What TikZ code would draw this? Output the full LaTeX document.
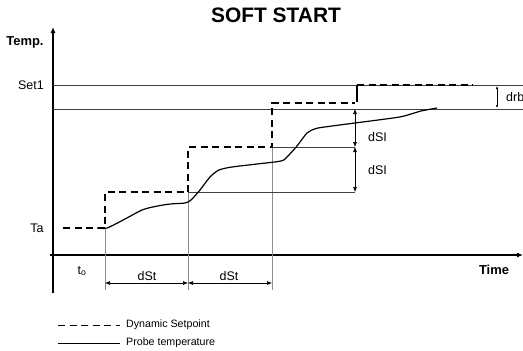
\documentclass[tikz,border=0pt]{standalone}
\usepackage{fontspec}
\setmainfont{Liberation Sans}
\usetikzlibrary{arrows.meta, positioning, calc}

\begin{document}
\begin{tikzpicture}[
    x=1bp, y=-1bp,
    >=Latex,
    axis line/.style={-{Latex[length=6bp,width=5bp]}, line width=1.1bp},
    guide line/.style={black!75, line width=0.7bp},
    marker line/.style={black!45, line width=0.9bp},
    setpoint line/.style={dash pattern=on 7bp off 4.5bp, line width=1.2bp},
    probe line/.style={line width=1.2bp},
    dim arrow/.style={{Latex[length=5bp,width=4bp]}-{Latex[length=5bp,width=4bp]}, line width=0.6bp},
    small arrow/.style={{Latex[length=3bp,width=2.5bp]}-{Latex[length=3bp,width=2.5bp]}, line width=0.6bp},
    label text/.style={font=\fontsize{12.5}{14}\selectfont, inner sep=0pt},
    bold text/.style={font=\bfseries\fontsize{13}{15}\selectfont, inner sep=0pt},
    legend text/.style={font=\fontsize{10.7}{12}\selectfont, anchor=west, inner sep=0pt}
]
\useasboundingbox (0,0) rectangle (523,350);

% Title and axis labels
\node[font=\bfseries\fontsize{21}{24}\selectfont, inner sep=0pt] (title) at (276,15) {SOFT START};
\node[bold text] (templbl) at (25,42) {Temp.};
\node[bold text] (timelbl) at (494,270) {Time};

% Axes
\coordinate (ybot) at (53,293);
\coordinate (ytop) at (53,27);
\coordinate (xleft) at (50,255);
\coordinate (xright) at (523,255);
\draw[axis line] (ybot) -- (ytop);
\draw[axis line] (xleft) -- (xright);

% Set1 and lower band limit
\coordinate (set1a) at (53,85);
\coordinate (set1b) at (523,85);
\coordinate (banda) at (53,109);
\coordinate (bandb) at (523,109);
\draw[guide line] (set1a) -- (set1b);
\draw[guide line] (banda) -- (bandb);
\node[label text, anchor=east] (set1lbl) at (44,85) {Set1};
\node[label text] (talbl) at (37,228) {Ta};

% Step corners of the dynamic setpoint
\coordinate (s0) at (63,228);
\coordinate (s1) at (105,228);
\coordinate (s2) at (105,192);
\coordinate (s3) at (188,192);
\coordinate (s4) at (188,147);
\coordinate (s5) at (272,147);
\coordinate (s6) at (272,103);
\coordinate (s7) at (355,103);
\coordinate (j1) at (357,102);
\coordinate (j2) at (357,85);
\coordinate (s8) at (473,85);

% Time markers
\coordinate (m1) at (105,290);
\coordinate (m2) at (188,290);
\coordinate (m3) at (272,290);
\draw[marker line] (s1) -- (m1);
\draw[marker line] (s3) -- (m2);
\draw[marker line] (s5) -- (m3);

% Step levels carried to the right
\coordinate (l1) at (355,192);
\coordinate (l2) at (355,147);
\coordinate (l3) at (355,109);
\draw[guide line] (s3) -- (l1);
\draw[guide line] (s5) -- (l2);

% Dynamic setpoint
\draw[setpoint line] (s0) -- (s1) -- (s2) -- (s3) -- (s4) -- (s5) -- (s6) -- (s7);
\draw[line width=2.4bp] (j1) -- (j2);
\draw[setpoint line] (j2) -- (s8);

% Probe temperature
\draw[probe line, line join=round] plot[smooth, tension=0.45] coordinates {
    (97,228) (107,228) (125,219) (142,210) (155,206.5) (170,204) (185,203)
    (191,200) (200,190) (210,177) (219,170) (232,167) (257,164) (281,161)
    (287,157) (297,146) (307,133) (316,128.5) (332,126) (393,118) (406,115.5)
    (421,111) (437,108)};

% dSl increments
\draw[dim arrow] (l3) -- (l2);
\draw[dim arrow] (l2) -- (l1);
\node[label text, anchor=west] (dsl1) at (368,137) {dSI};
\node[label text, anchor=west] (dsl2) at (368,170) {dSI};

% drb band
\coordinate (d1) at (497,86);
\coordinate (d2) at (497,108);
\draw[small arrow] (d1) -- (d2);
\node[label text, anchor=west] (drblbl) at (506,97) {drb};

% dSt intervals
\coordinate (t1) at (105,283);
\coordinate (t2) at (188,283);
\coordinate (t3) at (272,283);
\draw[dim arrow] (t1) -- (t2);
\draw[dim arrow] (t2) -- (t3);
\node[label text] (dst1) at (147,276) {dSt};
\node[label text] (dst2) at (229,276) {dSt};
\node[label text] (t0lbl) at (82,271) {t\textsubscript{o}};

% Legend
\coordinate (g1) at (58,325);
\coordinate (g2) at (120,325);
\coordinate (g3) at (58,343);
\coordinate (g4) at (120,343);
\draw[setpoint line, line width=1bp] (g1) -- (g2);
\draw[probe line, line width=1bp] (g3) -- (g4);
\node[legend text] (leg1) at (126,325) {Dynamic Setpoint};
\node[legend text] (leg2) at (126,343) {Probe temperature};

\end{tikzpicture}
\end{document}
